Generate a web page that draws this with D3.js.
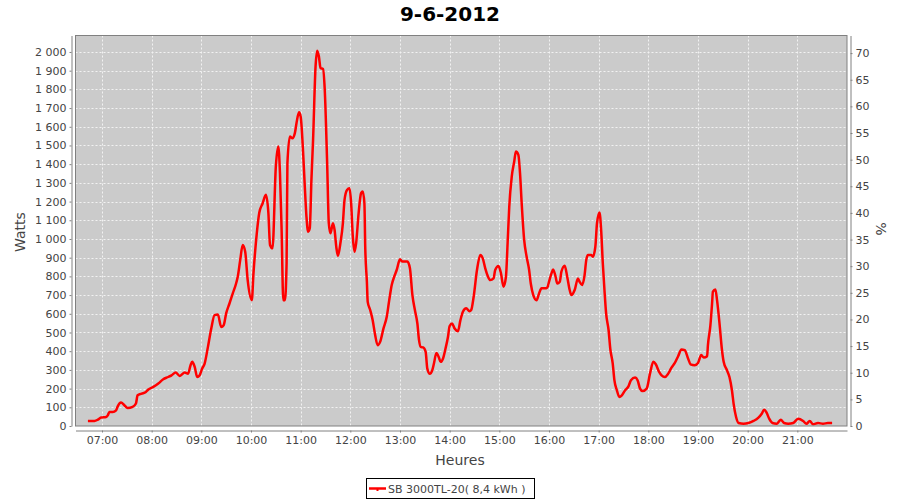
<!DOCTYPE html>
<html><head><meta charset="utf-8">
<script src="https://cdn.jsdelivr.net/npm/d3@7"></script>
<style>
body{margin:0;background:#fff;}
text{font-family:"DejaVu Sans",sans-serif;}
</style>
</head><body>
<svg id="c" width="900" height="500"></svg>
<script>
const chartTitle = "9-6-2012";
const seriesName = "SB 3000TL-20( 8,4 kWh )";
const yLabel = "Watts";
const y2Label = "%";
const xLabel = "Heures";

const times = ["06:43","06:51","06:55","06:59","07:05","07:07","07:09","07:13","07:17","07:19","07:23","07:27","07:31","07:37","07:41","07:43","07:48","07:53","07:56","08:02","08:08","08:14","08:20","08:24","08:29","08:34","08:40","08:44","08:47","08:49","08:52","08:55","08:58","09:01","09:04","09:08","09:12","09:16","09:20","09:24","09:27","09:30","09:34","09:38","09:42","09:44","09:47","09:50","09:53","09:56","10:01","10:03","10:07","10:10","10:14","10:18","10:21","10:23","10:26","10:30","10:33","10:35","10:37","10:39","10:41","10:43","10:44","10:47","10:50","10:53","10:55","10:58","11:00","11:03","11:05","11:07","11:09","11:11","11:13","11:15","11:18","11:20","11:22","11:24","11:27","11:29","11:32","11:34","11:36","11:39","11:41","11:43","11:45","11:48","11:51","11:53","11:56","11:59","12:01","12:03","12:05","12:07","12:10","12:13","12:15","12:17","12:18","12:20","12:21","12:24","12:27","12:30","12:33","12:36","12:40","12:44","12:47","12:50","12:53","12:56","13:00","13:03","13:06","13:09","13:12","13:15","13:18","13:21","13:23","13:25","13:28","13:31","13:33","13:36","13:39","13:41","13:44","13:47","13:49","13:52","13:55","13:58","14:00","14:03","14:06","14:10","14:13","14:16","14:20","14:24","14:26","14:29","14:33","14:37","14:40","14:43","14:46","14:49","14:53","14:55","14:59","15:02","15:05","15:08","15:10","15:12","15:15","15:18","15:20","15:23","15:25","15:27","15:30","15:33","15:36","15:38","15:41","15:45","15:48","15:51","15:55","15:58","16:00","16:03","16:05","16:08","16:10","16:13","16:15","16:19","16:22","16:25","16:27","16:31","16:35","16:37","16:40","16:43","16:45","16:47","16:51","16:53","16:56","16:58","17:01","17:03","17:05","17:07","17:09","17:12","17:14","17:17","17:19","17:22","17:25","17:28","17:32","17:36","17:39","17:44","17:47","17:50","17:53","17:58","18:02","18:06","18:09","18:13","18:16","18:20","18:24","18:28","18:32","18:36","18:40","18:44","18:48","18:51","18:56","19:00","19:04","19:07","19:11","19:12","19:15","19:17","19:18","19:21","19:23","19:26","19:29","19:31","19:35","19:38","19:41","19:43","19:46","19:49","19:55","20:01","20:07","20:13","20:17","20:20","20:23","20:26","20:30","20:35","20:40","20:44","20:49","20:55","21:01","21:07","21:11","21:15","21:19","21:25","21:31","21:37","21:42"];

const watts = [27,27,34,45,48,57,75,75,84,105,125,111,96,102,120,164,173,182,195,209,227,250,262,271,286,268,286,280,325,343,316,262,271,307,334,423,521,593,596,530,539,602,655,709,762,798,888,968,932,780,673,816,1030,1140,1190,1236,1140,968,950,1387,1495,1352,1048,673,673,870,1405,1548,1539,1566,1620,1677,1655,1459,1280,1120,1039,1057,1316,1530,1923,2007,1977,1914,1909,1807,1405,1084,1030,1084,1048,959,909,977,1084,1209,1262,1271,1191,1012,932,977,1137,1245,1254,1191,959,771,664,620,566,486,432,450,521,584,673,754,798,834,891,879,879,879,843,700,620,548,459,423,420,396,307,280,298,334,391,366,343,361,414,477,535,548,521,507,566,611,629,614,620,691,834,914,896,843,802,780,789,834,855,816,745,798,977,1173,1334,1414,1468,1450,1352,1191,995,905,834,762,700,673,709,736,736,741,771,816,837,798,762,771,825,857,798,727,700,727,789,771,754,807,887,914,914,905,959,1084,1141,1048,870,727,602,512,414,334,245,191,155,164,191,212,245,259,245,200,187,200,280,343,330,289,271,262,280,312,337,373,409,405,361,330,325,337,379,366,373,432,539,655,718,730,673,548,405,343,298,262,191,120,48,16,12,16,27,45,66,87,70,39,16,12,34,16,12,16,39,27,12,27,9,16,12,16,16];

const xTickLabels = ["07:00","08:00","09:00","10:00","11:00","12:00","13:00","14:00","15:00","16:00","17:00","18:00","19:00","20:00","21:00"];
const wattTicks = [0,100,200,300,400,500,600,700,800,900,1000,1100,1200,1300,1400,1500,1600,1700,1800,1900,2000];
const pctTicks = [0,5,10,15,20,25,30,35,40,45,50,55,60,65,70];

const parse = d3.timeParse("%H:%M");
const data = times.map((t, i) => ({t: parse(t), v: watts[i]}));

const L = 75.5, R = 847, T = 35.5, B = 426;
const svg = d3.select("#c");

const x = d3.scaleTime().domain([parse("06:28"), parse("22:00")]).range([L, R]);
const y = d3.scaleLinear().domain([0, 2088]).range([B, T]);
const y2 = d3.scaleLinear().domain([0, 73.3]).range([B, T]);

const loc = d3.formatLocale({decimal: ",", thousands: " ", grouping: [3], currency: ["", " €"]});
const fmt = loc.format(",d");

// Title
svg.append("text").attr("x", 450).attr("y", 21).attr("text-anchor", "middle")
  .style("font-size", "20px").style("font-weight", "bold").attr("fill", "#000").text(chartTitle);

// Plot background
svg.append("rect").attr("x", L).attr("y", T).attr("width", R - L).attr("height", B - T)
  .attr("fill", "#cbcbcb");

// Gridlines
const grid = svg.append("g").attr("stroke", "#f2f2f2").attr("stroke-width", 1).attr("stroke-dasharray", "2,2");
xTickLabels.forEach(s => {
  const px = Math.round(x(parse(s))) + 0.5;
  grid.append("line").attr("x1", px).attr("x2", px).attr("y1", T).attr("y2", B);
});
wattTicks.filter(v => v > 0).forEach(v => {
  const py = Math.round(y(v)) + 0.5;
  grid.append("line").attr("x1", L).attr("x2", R).attr("y1", py).attr("y2", py);
});

// Series line
const line = d3.line().x(d => x(d.t)).y(d => y(d.v)).curve(d3.curveMonotoneX);
svg.append("path").datum(data).attr("d", line).attr("fill", "none")
  .attr("stroke", "#ff0000").attr("stroke-width", 2.5).attr("stroke-linejoin", "round");

// Plot border
svg.append("rect").attr("x", L).attr("y", T).attr("width", R - L).attr("height", B - T)
  .attr("fill", "none").attr("stroke", "#808080").attr("stroke-width", 1);

function styleAxis(g) {
  g.selectAll("path").attr("stroke", "#808080");
  g.selectAll("line").attr("stroke", "#808080");
  g.selectAll("text").attr("fill", "#444").style("font-size", "11px").style("font-family", "'DejaVu Sans',sans-serif");
}

// Left axis
const gl = svg.append("g").attr("transform", "translate(71.5,0)")
  .call(d3.axisLeft(y).tickValues(wattTicks).tickFormat(fmt).tickSize(2).tickSizeOuter(0).tickPadding(3));
styleAxis(gl);

// Right axis
const gr = svg.append("g").attr("transform", "translate(850.5,0)")
  .call(d3.axisRight(y2).tickValues(pctTicks).tickSize(2).tickSizeOuter(0).tickPadding(3));
styleAxis(gr);

// Bottom axis
const gb = svg.append("g").attr("transform", "translate(0,430.5)")
  .call(d3.axisBottom(x).tickValues(xTickLabels.map(parse)).tickFormat(d3.timeFormat("%H:%M")).tickSize(2).tickSizeOuter(0).tickPadding(3.5));
styleAxis(gb);

// Axis labels
svg.append("text").attr("transform", "translate(25,232) rotate(-90)").attr("text-anchor", "middle")
  .attr("fill", "#444").style("font-size", "14px").text(yLabel);
svg.append("text").attr("transform", "translate(876,229) rotate(90)").attr("text-anchor", "middle")
  .attr("fill", "#444").style("font-size", "14px").text(y2Label);
svg.append("text").attr("x", 460).attr("y", 465).attr("text-anchor", "middle")
  .attr("fill", "#444").style("font-size", "14px").text(xLabel);

// Legend
const lg = svg.append("g");
lg.append("rect").attr("x", 366.5).attr("y", 478.5).attr("width", 168).attr("height", 20)
  .attr("fill", "#fff").attr("stroke", "#000").attr("stroke-width", 1);
lg.append("line").attr("x1", 369).attr("x2", 386).attr("y1", 488.5).attr("y2", 488.5)
  .attr("stroke", "#ff0000").attr("stroke-width", 2.5);
lg.append("rect").attr("x", 376.5).attr("y", 488).attr("width", 2).attr("height", 3).attr("fill", "#ff0000");
lg.append("text").attr("x", 388).attr("y", 492.5).attr("fill", "#444")
  .style("font-size", "11px").text(seriesName);
</script>
</body></html>
